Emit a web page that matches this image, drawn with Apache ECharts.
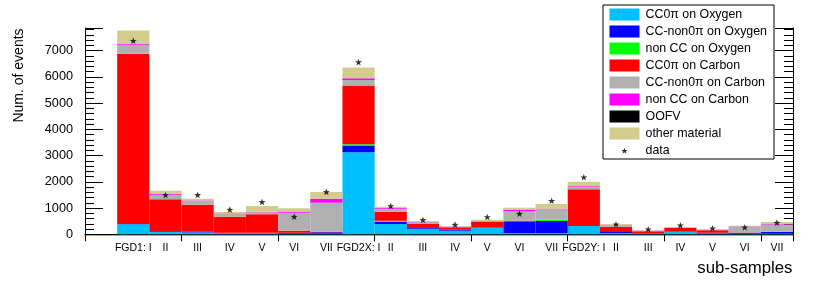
<!DOCTYPE html>
<html>
<head>
<meta charset="utf-8">
<script src="https://cdn.jsdelivr.net/npm/echarts@6/dist/echarts.min.js"></script>
<style>
html,body{margin:0;padding:0;background:#fff;}
#chart{width:814px;height:283px;}
</style>
</head>
<body>
<div id="chart"></div>
<script>
// ---- data ----
const binLabels = ['', 'FGD1: I', 'II', 'III', 'IV', 'V', 'VI', 'VII',
  'FGD2X: I', 'II', 'III', 'IV', 'V', 'VI', 'VII',
  'FGD2Y: I', 'II', 'III', 'IV', 'V', 'VI', 'VII'];
const cc0piOxygen    = [0, 380, 90, 70, 40, 40, 20, 20, 3130, 393, 214, 137, 250, 38, 38, 330, 40, 25, 110, 35, 25, 25];
const ccNon0piOxygen = [0, 15, 30, 30, 20, 20, 40, 60, 252, 88, 53, 39, 17, 460, 470, 25, 45, 15, 16, 25, 30, 60];
const nonCCOxygen    = [0, 0, 0, 0, 0, 0, 0, 0, 53, 38, 0, 0, 0, 15, 49, 0, 0, 0, 0, 0, 0, 0];
const cc0piCarbon    = [0, 6487, 1216, 1030, 612, 703, 77, 20, 2237, 344, 126, 91, 202, 10, 0, 1363, 205, 75, 114, 92, 15, 15];
const ccNon0piCarbon = [0, 344, 176, 141, 100, 80, 687, 1106, 206, 114, 70, 20, 31, 366, 396, 82, 60, 25, 25, 25, 210, 270];
const nonCCCarbon    = [0, 40, 38, 20, 20, 20, 41, 153, 76, 30, 15, 8, 10, 41, 23, 30, 15, 5, 5, 5, 15, 20];
const oofv           = [0, 0, 0, 0, 0, 0, 0, 0, 0, 0, 0, 0, 0, 0, 0, 0, 0, 0, 0, 0, 0, 0];
const otherMaterial  = [0, 505, 114, 68, 59, 217, 127, 256, 405, 47, 30, 10, 47, 80, 180, 178, 30, 10, 10, 10, 33, 80];
const dataPoints     = [null, 7378, 1500, 1500, 939, 1233, 672, 1615, 6565, 1080, 550, 367, 660, 786, 1280, 2176, 382, 191, 343, 229, 267, 443];
const yTickStep = 1000;
const yMinorStep = 200;
const yMax = 7865;

// ---- styling ----
const FONT = 'Liberation Sans, Arial, Helvetica, sans-serif';
const stackDefs = [
  { name: 'CC0π on Oxygen', values: cc0piOxygen, color: '#00bfff' },
  { name: 'CC-non0π on Oxygen', values: ccNon0piOxygen, color: '#0000ff' },
  { name: 'non CC on Oxygen', values: nonCCOxygen, color: '#00ff00' },
  { name: 'CC0π on Carbon', values: cc0piCarbon, color: '#ff0000' },
  { name: 'CC-non0π on Carbon', values: ccNon0piCarbon, color: '#b0b0b0' },
  { name: 'non CC on Carbon', values: nonCCCarbon, color: '#ff00ff' },
  { name: 'OOFV', values: oofv, color: '#000000' },
  { name: 'other material', values: otherMaterial, color: '#d2cd8c' }
];

function starPath(cx, cy, R, r) {
  let s = '';
  for (let i = 0; i < 10; i++) {
    const rad = (i % 2 === 0) ? R : r;
    const a = -Math.PI / 2 + i * Math.PI / 5;
    const x = (cx + rad * Math.cos(a)).toFixed(3);
    const y = (cy + rad * Math.sin(a)).toFixed(3);
    s += (i === 0 ? 'M' : 'L') + x + ',' + y + ' ';
  }
  return s + 'Z';
}
const starSymbol = 'path://' + starPath(0, 0, 10, 4);
const legendStar = 'path://M0,0 M30,0 M0,12 M30,12 ' + starPath(15, 6.5, 3.3, 1.35);

const series = stackDefs.map(d => ({
  name: d.name,
  type: 'bar',
  stack: 'mc',
  xAxisIndex: 0,
  yAxisIndex: 0,
  barWidth: '100%',
  barCategoryGap: 0,
  itemStyle: { color: d.color },
  emphasis: { disabled: true },
  data: d.values
}));
series.push({
  name: 'data',
  type: 'scatter',
  xAxisIndex: 0,
  yAxisIndex: 0,
  symbol: starSymbol,
  symbolSize: 7,
  symbolKeepAspect: true,
  itemStyle: { color: '#000' },
  z: 5,
  data: dataPoints.map(v => (v === null ? '-' : v))
});

const legendData = stackDefs.map(d => ({ name: d.name, icon: 'rect' }));
legendData.push({ name: 'data', icon: legendStar });

const chart = echarts.init(document.getElementById('chart'), null, { renderer: 'canvas' });
chart.setOption({
  animation: false,
  backgroundColor: '#fff',
  textStyle: { fontFamily: FONT },
  grid: { left: 85, right: 21, top: 28, bottom: 48.7, containLabel: false },
  legend: {
    orient: 'vertical',
    left: 603,
    top: 5,
    padding: [3.5, 7, 2.5, 6.5],
    itemWidth: 30,
    itemHeight: 12,
    itemGap: 5,
    selectedMode: false,
    backgroundColor: '#fff',
    borderColor: '#000',
    borderWidth: 1,
    borderRadius: 0,
    textStyle: { fontFamily: FONT, fontSize: 12.4, color: '#000', lineHeight: 12, padding: [0, 0, 0, 1] },
    data: legendData
  },
  xAxis: [
    {
      type: 'category', data: binLabels, position: 'bottom', boundaryGap: true,
      axisLine: { show: true, lineStyle: { color: '#00bfff', width: 1.5 } },
      axisTick: { show: false },
      axisLabel: { interval: 0, fontSize: 10.5, color: '#000', margin: 8.5, fontFamily: FONT },
      splitLine: { show: false }
    },
    {
      type: 'category', data: binLabels, position: 'top', boundaryGap: true,
      axisLine: { show: true, lineStyle: { color: '#000', width: 1 } },
      axisTick: { show: true, inside: true, length: 7, lineStyle: { color: '#000' } },
      axisLabel: { show: false },
      splitLine: { show: false }
    }
  ],
  yAxis: [
    {
      type: 'value', min: 0, max: yMax, interval: yTickStep, position: 'left',
      axisLine: { show: true, lineStyle: { color: '#000' } },
      axisTick: { show: true, inside: true, length: 18, lineStyle: { color: '#000' } },
      axisLabel: { fontSize: 12.7, color: '#000', margin: 12, fontFamily: FONT,
        formatter: v => (v % yTickStep === 0 ? String(v) : '') },
      splitLine: { show: false }
    },
    {
      type: 'value', min: 0, max: yMax, interval: yMinorStep, position: 'left',
      axisLine: { show: false },
      axisTick: { show: true, inside: true, length: 9, lineStyle: { color: '#000' } },
      axisLabel: { show: false },
      splitLine: { show: false }
    },
    {
      type: 'value', min: 0, max: yMax, interval: yTickStep, position: 'right',
      axisLine: { show: true, lineStyle: { color: '#000' } },
      axisTick: { show: true, inside: true, length: 18, lineStyle: { color: '#000' } },
      axisLabel: { show: false },
      splitLine: { show: false }
    },
    {
      type: 'value', min: 0, max: yMax, interval: yMinorStep, position: 'right',
      axisLine: { show: false },
      axisTick: { show: true, inside: true, length: 9, lineStyle: { color: '#000' } },
      axisLabel: { show: false },
      splitLine: { show: false }
    }
  ],
  graphic: [
    {
      type: 'text', x: 19, y: 75.5, rotation: Math.PI / 2,
      style: { text: 'Num. of events', fontSize: 14, fontFamily: FONT, fill: '#000',
        align: 'center', verticalAlign: 'middle' }
    },
    {
      type: 'text', x: 792.5, y: 268,
      style: { text: 'sub-samples', fontSize: 16.8, fontFamily: FONT, fill: '#000',
        align: 'right', verticalAlign: 'middle' }
    }
  ],
  series: series
});
</script>
</body>
</html>
